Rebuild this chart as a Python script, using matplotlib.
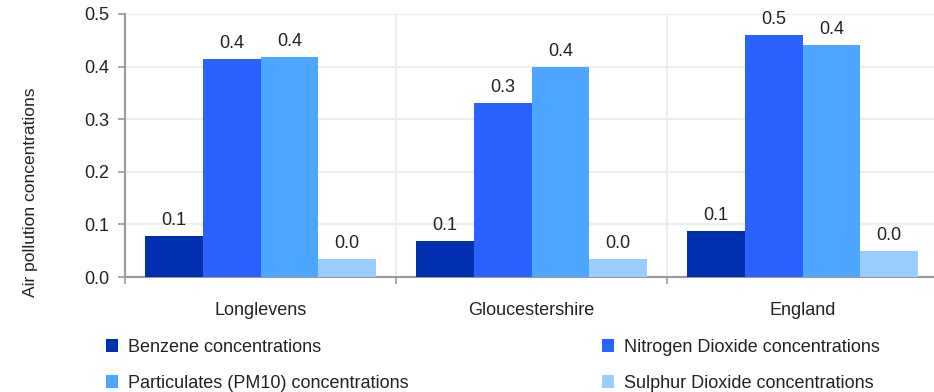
import numpy as np
import matplotlib
matplotlib.use("Agg")
import matplotlib.pyplot as plt
from matplotlib.patches import Patch

plt.rcParams['font.family'] = ['Liberation Sans', 'DejaVu Sans']

# data
areas = ['Longlevens', 'Gloucestershire', 'England']
series_names = ['Benzene concentrations', 'Nitrogen Dioxide concentrations',
                'Particulates (PM10) concentrations', 'Sulphur Dioxide concentrations']
benzene = [0.078, 0.068, 0.087]
nitrogen_dioxide = [0.414, 0.331, 0.460]
particulates = [0.418, 0.399, 0.441]
sulphur_dioxide = [0.034, 0.034, 0.049]
yticks = [0.0, 0.1, 0.2, 0.3, 0.4, 0.5]

colors = ['#0030B0', '#2A62FF', '#4DA6FF', '#99CCFF']
values = [benzene, nitrogen_dioxide, particulates, sulphur_dioxide]
FS = 13
TXT = '#222222'

W, H = 934, 392
fig = plt.figure(figsize=(W / 100, H / 100), dpi=100)
# axes: left 125px, right ~938px, top 14px, bottom 277px
ax = fig.add_axes([125 / W, 1 - 277 / H, (938 - 125) / W, (277 - 14) / H])

x = np.arange(len(areas))
bw = 0.85 / 4
for i, (vals, c) in enumerate(zip(values, colors)):
    bars = ax.bar(x + (i - 1.5) * bw, vals, width=bw, color=c, zorder=3, linewidth=0)
    ax.bar_label(bars, fmt='%.1f', padding=5, fontsize=FS, color=TXT)

ax.set_xlim(-0.5, len(areas) - 0.5)
ax.set_ylim(0, 0.5)
ax.set_yticks(yticks)
ax.set_yticklabels(['%.1f' % v for v in yticks])

# category labels centred, ticks at group boundaries
ax.set_xticks(x)
ax.set_xticklabels(areas)
ax.set_xticks(np.arange(-0.5, len(areas) + 0.5, 1), minor=True)
ax.tick_params(axis='x', which='major', length=0, pad=18, labelsize=FS, labelcolor=TXT)
ax.tick_params(axis='x', which='minor', length=5, color='#999999', width=1.2)
ax.tick_params(axis='y', length=5, color='#999999', width=1.2, labelsize=FS, labelcolor=TXT, pad=6)

ax.grid(axis='y', color='#eeeeee', linewidth=1.5, zorder=0)
ax.grid(axis='x', which='minor', color='#eeeeee', linewidth=1.5, zorder=0)

for s in ['top', 'right']:
    ax.spines[s].set_visible(False)
for s in ['left', 'bottom']:
    ax.spines[s].set_color('#999999')
    ax.spines[s].set_linewidth(1.5)

fig.text(31 / W, 1 - 192 / H, 'Air pollution concentrations', rotation=90,
         ha='center', va='center', fontsize=12.5, color=TXT)

handles = [Patch(facecolor=c, edgecolor='none') for c in colors]
leg_kw = dict(frameon=False, fontsize=FS, handlelength=0.68, handleheight=0.68,
              handletextpad=0.55, labelspacing=1.05, borderaxespad=0, borderpad=0)
leg1 = fig.legend([handles[0], handles[2]], [series_names[0], series_names[2]],
                  loc='upper left', bbox_to_anchor=(106 / W, 1 - 339 / H), **leg_kw)
leg2 = fig.legend([handles[1], handles[3]], [series_names[1], series_names[3]],
                  loc='upper left', bbox_to_anchor=(602 / W, 1 - 339 / H), **leg_kw)
for leg in (leg1, leg2):
    for t in leg.get_texts():
        t.set_color(TXT)

fig.savefig('out.png', dpi=100)
